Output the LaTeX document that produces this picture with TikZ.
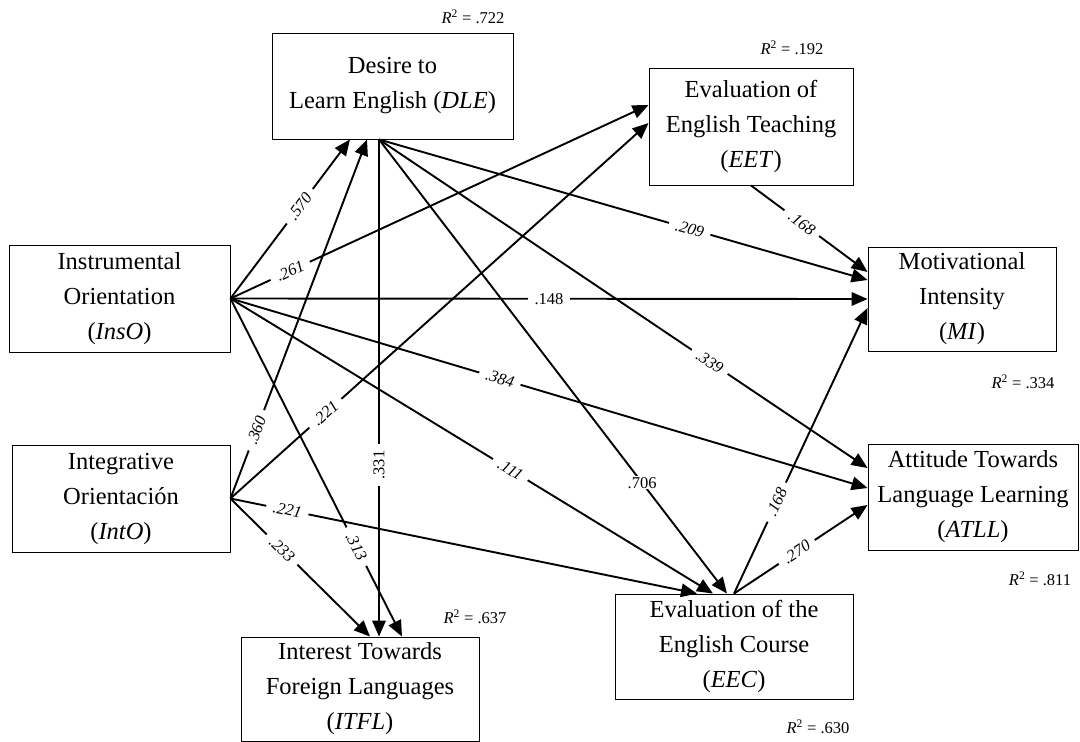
\documentclass[tikz,border=0pt]{standalone}
\usepackage{fontspec}
\setmainfont{Liberation Serif}
\usetikzlibrary{arrows.meta}
\newcommand\bxfont{\fontsize{24.5}{35}\selectfont}
\newcommand\lbfont{\fontsize{16.5}{19}\selectfont}
\begin{document}
\begin{tikzpicture}[x=1pt,y=-1pt,
  box/.style={draw, line width=0.9pt, inner sep=0pt, align=center, font=\bxfont},
  arr/.style={line width=1.9pt, -{Triangle[length=16pt,width=13.5pt]}},
  lab/.style={fill=white, inner xsep=7pt, inner ysep=1pt, font=\lbfont},
  rsq/.style={inner sep=0pt, font=\lbfont}]
\useasboundingbox (0,0) rectangle (1080,742);
% boxes
\node[box, minimum width=221pt, minimum height=107pt] (inso) at (119.5,298.5) {Instrumental\\Orientation\\(\textit{InsO})};
\node[box, minimum width=218pt, minimum height=107pt] (into) at (121,498.5) {Integrative\\Orientación\\(\textit{IntO})};
\node[box, minimum width=241pt, minimum height=106pt] (dle) at (392.5,86) {Desire to\\Learn English (\textit{DLE})};
\node[box, minimum width=204pt, minimum height=117pt] (eet) at (751,126.5) {Evaluation of\\English Teaching\\(\textit{EET})};
\node[box, minimum width=188pt, minimum height=104pt] (mi) at (962,299) {Motivational\\Intensity\\(\textit{MI})};
\node[box, minimum width=210pt, minimum height=106pt] (atll) at (973,497) {Attitude Towards\\Language Learning\\(\textit{ATLL})};
\node[box, minimum width=238pt, minimum height=105pt] (eec) at (734,646.5) {Evaluation of the\\English Course\\(\textit{EEC})};
\node[box, minimum width=238pt, minimum height=104pt] (itfl) at (360,689) {Interest Towards\\Foreign Languages\\(\textit{ITFL})};
% R squared
\node[rsq] (r2dle) at (473,17) {\textit{R}\textsuperscript{2} = .722};
\node[rsq] (r2eet) at (792,48) {\textit{R}\textsuperscript{2} = .192};
\node[rsq] (r2mi) at (1023,382) {\textit{R}\textsuperscript{2} = .334};
\node[rsq] (r2atll) at (1040,579) {\textit{R}\textsuperscript{2} = .811};
\node[rsq] (r2eec) at (818,727) {\textit{R}\textsuperscript{2} = .630};
\node[rsq] (r2itfl) at (475,617) {\textit{R}\textsuperscript{2} = .637};
% arrows
\draw[arr] (inso.east) -- ([xshift=-42.5pt]dle.south);
\draw[arr] (inso.east) -- ([yshift=21.5pt]eet.west);
\draw[arr] (inso.east) -- (mi.west);
\draw[arr] (inso.east) -- ([yshift=9pt]atll.west);
\draw[arr] (inso.east) -- ([xshift=-21pt]eec.north);
\draw[arr] (inso.east) -- ([xshift=42pt]itfl.north);
\draw[arr] (into.east) -- ([xshift=-25.5pt]dle.south);
\draw[arr] (into.east) -- ([yshift=3.5pt]eet.west);
\draw[arr] (into.east) -- ([xshift=-37pt]eec.north);
\draw[arr] (into.east) -- ([xshift=10pt]itfl.north);
\draw[arr] ([xshift=-13.5pt]dle.south) -- ([xshift=19pt]itfl.north);
\draw[arr] ([xshift=-13.5pt]dle.south) -- ([xshift=-7pt]eec.north);
\draw[arr] ([xshift=-13.5pt]dle.south) -- ([yshift=19pt]mi.west);
\draw[arr] ([xshift=-13.5pt]dle.south) -- ([yshift=29pt]atll.west);
\draw[arr] (eet.south) -- ([yshift=27pt]mi.west);
\draw[arr] (eec.north) -- ([yshift=-9pt]mi.west);
\draw[arr] (eec.north) -- ([yshift=-8pt]atll.west);
% labels on top
\path (inso.east) -- ([xshift=-42.5pt]dle.south) node[lab, sloped, pos=0.58] {\textit{.570}};
\path (inso.east) -- ([yshift=21.5pt]eet.west) node[lab, sloped, pos=0.143] {\textit{.261}};
\path (inso.east) -- (mi.west) node[lab, pos=0.5] {.148};
\path (inso.east) -- ([yshift=9pt]atll.west) node[lab, sloped, pos=0.423] {\textit{.384}};
\path (inso.east) -- ([xshift=-21pt]eec.north) node[lab, sloped, pos=0.58] {\textit{.111}};
\path (inso.east) -- ([xshift=42pt]itfl.north) node[lab, sloped, pos=0.734] {\textit{.313}};
\path (into.east) -- ([xshift=-25.5pt]dle.south) node[lab, sloped, pos=0.19] {\textit{.360}};
\path (into.east) -- ([yshift=3.5pt]eet.west) node[lab, sloped, pos=0.227] {\textit{.221}};
\path (into.east) -- ([xshift=-37pt]eec.north) node[lab, sloped, pos=0.122] {\textit{.221}};
\path (into.east) -- ([xshift=10pt]itfl.north) node[lab, sloped, pos=0.37] {\textit{.233}};
\path ([xshift=-13.5pt]dle.south) -- ([xshift=19pt]itfl.north) node[lab, rotate=90, pos=0.655] {.331};
\path ([xshift=-13.5pt]dle.south) -- ([xshift=-7pt]eec.north) node[lab, pos=0.756] {.706};
\path ([xshift=-13.5pt]dle.south) -- ([yshift=19pt]mi.west) node[lab, sloped, pos=0.636] {\textit{.209}};
\path ([xshift=-13.5pt]dle.south) -- ([yshift=29pt]atll.west) node[lab, sloped, pos=0.677] {\textit{.339}};
\path (eet.south) -- ([yshift=27pt]mi.west) node[lab, sloped, pos=0.436] {\textit{.168}};
\path (eec.north) -- ([yshift=-9pt]mi.west) node[lab, sloped, pos=0.32] {\textit{.168}};
\path (eec.north) -- ([yshift=-8pt]atll.west) node[lab, sloped, pos=0.47] {\textit{.270}};
\end{tikzpicture}
\end{document}
